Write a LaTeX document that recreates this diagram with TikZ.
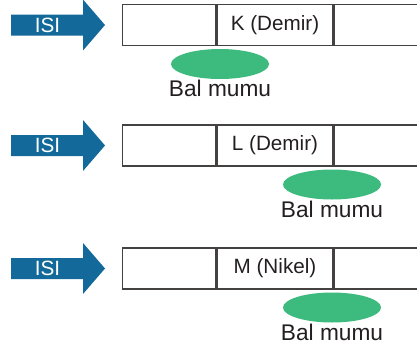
\documentclass[tikz,border=0pt]{standalone}
\usepackage{fontspec}
\setmainfont{Liberation Sans}
\usetikzlibrary{positioning,shapes.geometric}

\definecolor{heatblue}{HTML}{136A9A}
\definecolor{waxgreen}{HTML}{3DBB7F}
\definecolor{inkgray}{HTML}{231F20}

\begin{document}
\begin{tikzpicture}[
    x=0.75pt, y=-0.75pt,
    cell/.style={draw=inkgray!85, line width=1pt, minimum height=30.75pt,
        inner sep=0pt, text=inkgray, font=\fontsize{15.5}{18}\selectfont},
    heat arrow/.style={fill=heatblue},
    heat label/.style={text=white, font=\fontsize{15.5}{18}\selectfont,
        inner sep=0pt},
    wax/.style={ellipse, fill=waxgreen, minimum width=73.5pt,
        minimum height=22.5pt, inner sep=0pt},
    wax label/.style={text=inkgray, font=\fontsize{17}{20}\selectfont,
        inner sep=0pt}
]
\path[use as bounding box] (0,0) rectangle (417,350);

% K: iron rod, wax under the first joint
\begin{scope}[shift={(0,25)}]
    \fill[heat arrow] (11,-10.5) -- (83,-10.5) -- (83,-25.5) -- (105,0)
        -- (83,25.5) -- (83,10.5) -- (11,10.5) -- cycle;
    \node[heat label] (heat-k) at (47.5,0) {ISI};

    \node[cell, minimum width=69.75pt, anchor=west] (k-1) at (122,0) {};
    \node[cell, minimum width=87pt, right=0pt of k-1] (k-2) {K (Demir)};
    \node[cell, minimum width=75pt, right=0pt of k-2] (k-3) {};

    \node[wax] (wax-k) at (220,39) {};
    \node[wax label] (wax-k-label) at (220,63.5) {Bal mumu};
\end{scope}

% L: iron rod, wax under the second joint
\begin{scope}[shift={(0,145.5)}]
    \fill[heat arrow] (11,-10.5) -- (83,-10.5) -- (83,-25.5) -- (105,0)
        -- (83,25.5) -- (83,10.5) -- (11,10.5) -- cycle;
    \node[heat label] (heat-l) at (47.5,0) {ISI};

    \node[cell, minimum width=69.75pt, anchor=west] (l-1) at (122,0) {};
    \node[cell, minimum width=87pt, right=0pt of l-1] (l-2) {L (Demir)};
    \node[cell, minimum width=75pt, right=0pt of l-2] (l-3) {};

    \node[wax] (wax-l) at (332,39) {};
    \node[wax label] (wax-l-label) at (332,63.5) {Bal mumu};
\end{scope}

% M: nickel rod, wax under the second joint
\begin{scope}[shift={(0,268.5)}]
    \fill[heat arrow] (11,-10.5) -- (83,-10.5) -- (83,-25.5) -- (105,0)
        -- (83,25.5) -- (83,10.5) -- (11,10.5) -- cycle;
    \node[heat label] (heat-m) at (47.5,0) {ISI};

    \node[cell, minimum width=69.75pt, anchor=west] (m-1) at (122,0) {};
    \node[cell, minimum width=87pt, right=0pt of m-1] (m-2) {M (Nikel)};
    \node[cell, minimum width=75pt, right=0pt of m-2] (m-3) {};

    \node[wax] (wax-m) at (332,39) {};
    \node[wax label] (wax-m-label) at (332,63.5) {Bal mumu};
\end{scope}

\end{tikzpicture}
\end{document}
